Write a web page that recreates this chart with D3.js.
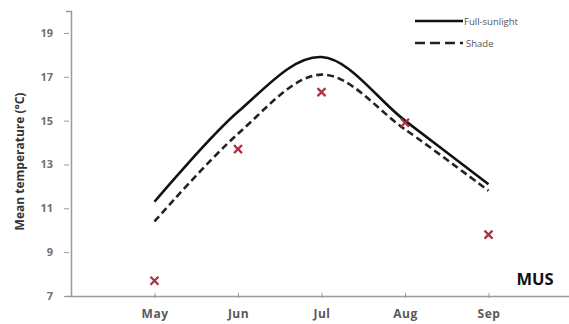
<!DOCTYPE html>
<html>
<head>
<meta charset="utf-8">
<script src="https://cdn.jsdelivr.net/npm/d3@7"></script>
<style>
  html, body { margin: 0; padding: 0; background: #fff; }
  svg { display: block; }
  text { font-family: "Open Sans", "Noto Sans", sans-serif; }
</style>
</head>
<body>
<svg id="chart" width="569" height="324"></svg>
<script>
// Monthly mean temperature at the MUS site
const months = ["May", "Jun", "Jul", "Aug", "Sep"];
const fullSunlight = [11.3, 15.4, 17.9, 15.0, 12.1];
const shade = [10.4, 14.4, 17.1, 14.6, 11.8];
const observed = [7.7, 13.7, 16.3, 14.9, 9.8];
const yTicks = [7, 9, 11, 13, 15, 17, 19];
const yDomain = [7, 20];

const svg = d3.select("#chart");
const plot = { left: 71, right: 572, top: 11, bottom: 296 };

// categories sit at positions 1..5 on a 0..6 axis
const x = d3.scaleLinear().domain([0, months.length + 1]).range([plot.left, plot.right]);
const y = d3.scaleLinear().domain(yDomain).range([plot.bottom, plot.top]);
const xi = (d, i) => x(i + 1);

// axes
const axisColor = "#9a9a9a";
const yAxis = d3.axisLeft(y).tickValues(yTicks).tickSize(5).tickPadding(13).tickFormat(d3.format("d"));
const gy = svg.append("g").attr("transform", `translate(${plot.left},0)`).call(yAxis);
gy.select(".domain").attr("stroke", axisColor).attr("stroke-width", 1.5);
gy.selectAll(".tick line").attr("stroke", axisColor).attr("stroke-width", 1).attr("transform", "translate(-2,0)");
gy.selectAll(".tick text").attr("fill", "#707070").attr("font-size", 11).attr("font-weight", 700);

const xAxis = d3.axisBottom(x).tickValues(d3.range(1, months.length + 1))
  .tickSize(3).tickPadding(10).tickFormat(i => months[i - 1]).tickSizeOuter(0);
const gx = svg.append("g").attr("transform", `translate(0,${plot.bottom})`).call(xAxis);
gx.select(".domain").attr("stroke", axisColor).attr("stroke-width", 1.5);
gx.selectAll(".tick line").attr("stroke", axisColor).attr("y1", -3).attr("y2", 2);
gx.selectAll(".tick text").attr("fill", "#5a5a5a").attr("font-size", 12).attr("font-weight", 700)
  .attr("letter-spacing", 0.5);

// y axis title
svg.append("text")
  .attr("transform", `translate(24,${(plot.top + plot.bottom) / 2 + 8}) rotate(-90)`)
  .attr("text-anchor", "middle")
  .attr("font-size", 12).attr("font-weight", 700).attr("fill", "#333")
  .text("Mean temperature (°C)");

// smoothed series lines
const line = d3.line().x(xi).y(d => y(d)).curve(d3.curveCatmullRom.alpha(0));
svg.append("path").datum(fullSunlight)
  .attr("d", line).attr("fill", "none").attr("stroke", "#111").attr("stroke-width", 2.6);
svg.append("path").datum(shade)
  .attr("d", line).attr("fill", "none").attr("stroke", "#222").attr("stroke-width", 2.6)
  .attr("stroke-dasharray", "7,4");

// observed values as crosses
const s = 4;
const marks = svg.append("g").attr("stroke", "#b03040").attr("stroke-width", 2.2).attr("fill", "none");
observed.forEach((v, i) => {
  const cx = xi(v, i), cy = y(v);
  marks.append("path").attr("d", `M${cx - s},${cy - s}L${cx + s},${cy + s}M${cx - s},${cy + s}L${cx + s},${cy - s}`);
});

// legend
const legend = svg.append("g").attr("transform", "translate(415,0)");
legend.append("line").attr("x1", 0).attr("x2", 48).attr("y1", 21).attr("y2", 21)
  .attr("stroke", "#111").attr("stroke-width", 2.6);
legend.append("text").attr("x", 49).attr("y", 24.5).attr("font-size", 9.5).attr("fill", "#555").text("Full-sunlight");
legend.append("line").attr("x1", 0).attr("x2", 48).attr("y1", 43).attr("y2", 43)
  .attr("stroke", "#222").attr("stroke-width", 2.6).attr("stroke-dasharray", "10,5");
legend.append("text").attr("x", 51).attr("y", 46.5).attr("font-size", 9.5).attr("fill", "#555").text("Shade");

// site label
svg.append("text").attr("x", 535).attr("y", 285).attr("text-anchor", "middle")
  .attr("font-size", 16.5).attr("font-weight", 700).attr("fill", "#111").text("MUS");
</script>
</body>
</html>
